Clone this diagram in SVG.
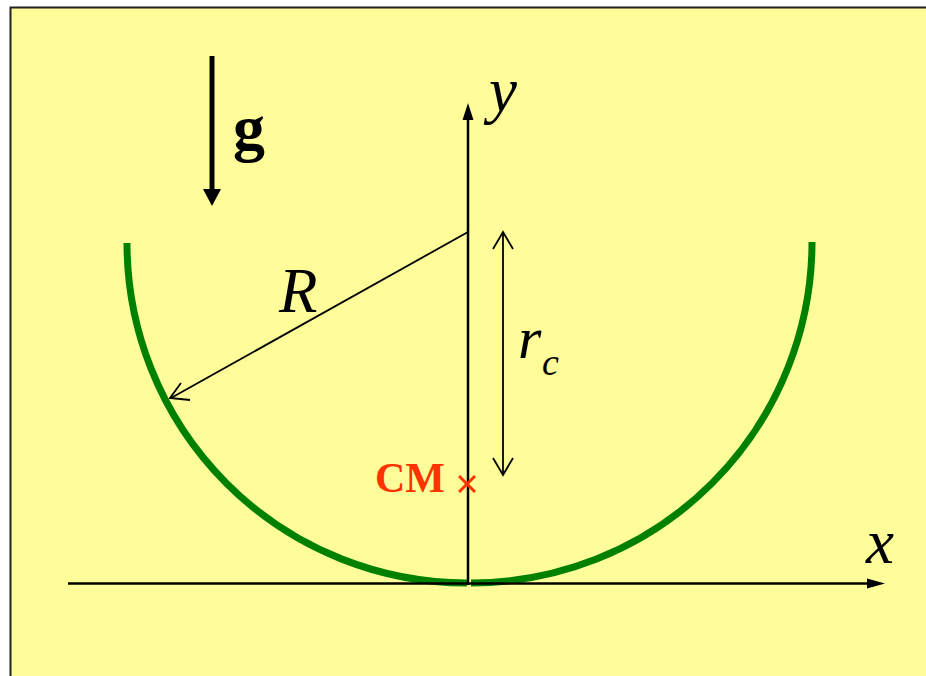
<svg xmlns="http://www.w3.org/2000/svg" width="926" height="676" viewBox="0 0 926 676">
<defs>
<style>
.ax{stroke:#000;stroke-width:2.5;fill:none}
.thin{stroke:#000;stroke-width:1.8;fill:none}
.bowl{stroke:#008000;stroke-width:7;fill:none}
.lbl{font-family:"Liberation Serif","Times New Roman",serif;font-style:italic;fill:#000}
.red{fill:#FF3300;font-family:"Liberation Serif","Times New Roman",serif;font-weight:bold}
</style>
</defs>
<rect x="0" y="0" width="926" height="676" fill="#fff"/>
<rect id="frame" x="10.5" y="7.5" width="1000" height="1000" fill="#FFFD99" stroke="#222" stroke-width="2"/>
<g id="bowl">
<path class="bowl" d="M127,243 A340,340 0 0 0 467,583"/>
<path class="bowl" d="M471,583 A341,341 0 0 0 812,242"/>
</g>
<g id="connectors">
<line class="ax" x1="68" y1="583.5" x2="870" y2="583.5"/>
<polygon points="867,578.5 867,588.5 885,583.5" fill="#000"/>
<line class="ax" x1="468" y1="585" x2="468" y2="118"/>
<polygon points="462.5,120 473.5,120 468,103" fill="#000"/>
<line x1="212" y1="56" x2="212" y2="192" stroke="#000" stroke-width="5"/>
<polygon points="203,189 221,189 212,206" fill="#000"/>
<line class="thin" x1="468" y1="232" x2="171" y2="398"/>
<polyline class="thin" points="181,383 170,398 190,400"/>
<line class="thin" x1="503" y1="233" x2="503" y2="474"/>
<polyline class="thin" points="493,249 503,232 513,249"/>
<polyline class="thin" points="493,458 503,475 513,458"/>
</g>
<g id="cm">
<line x1="459" y1="476" x2="475" y2="492" stroke="#FF3300" stroke-width="3"/>
<line x1="459" y1="492" x2="475" y2="476" stroke="#FF3300" stroke-width="3"/>
<text class="red" x="375" y="492" font-size="42">CM</text>
</g>
<g id="labels">
<text x="233" y="149" font-family="'Liberation Serif','Times New Roman',serif" font-weight="bold" font-size="64">g</text>
<text class="lbl" x="489" y="111" font-size="63">y</text>
<text class="lbl" x="866" y="563" font-size="63">x</text>
<text class="lbl" x="279" y="312" font-size="63">R</text>
<text class="lbl" x="518" y="358" font-size="60">r</text>
<text class="lbl" x="542" y="375" font-size="38">c</text>
</g>
</svg>
